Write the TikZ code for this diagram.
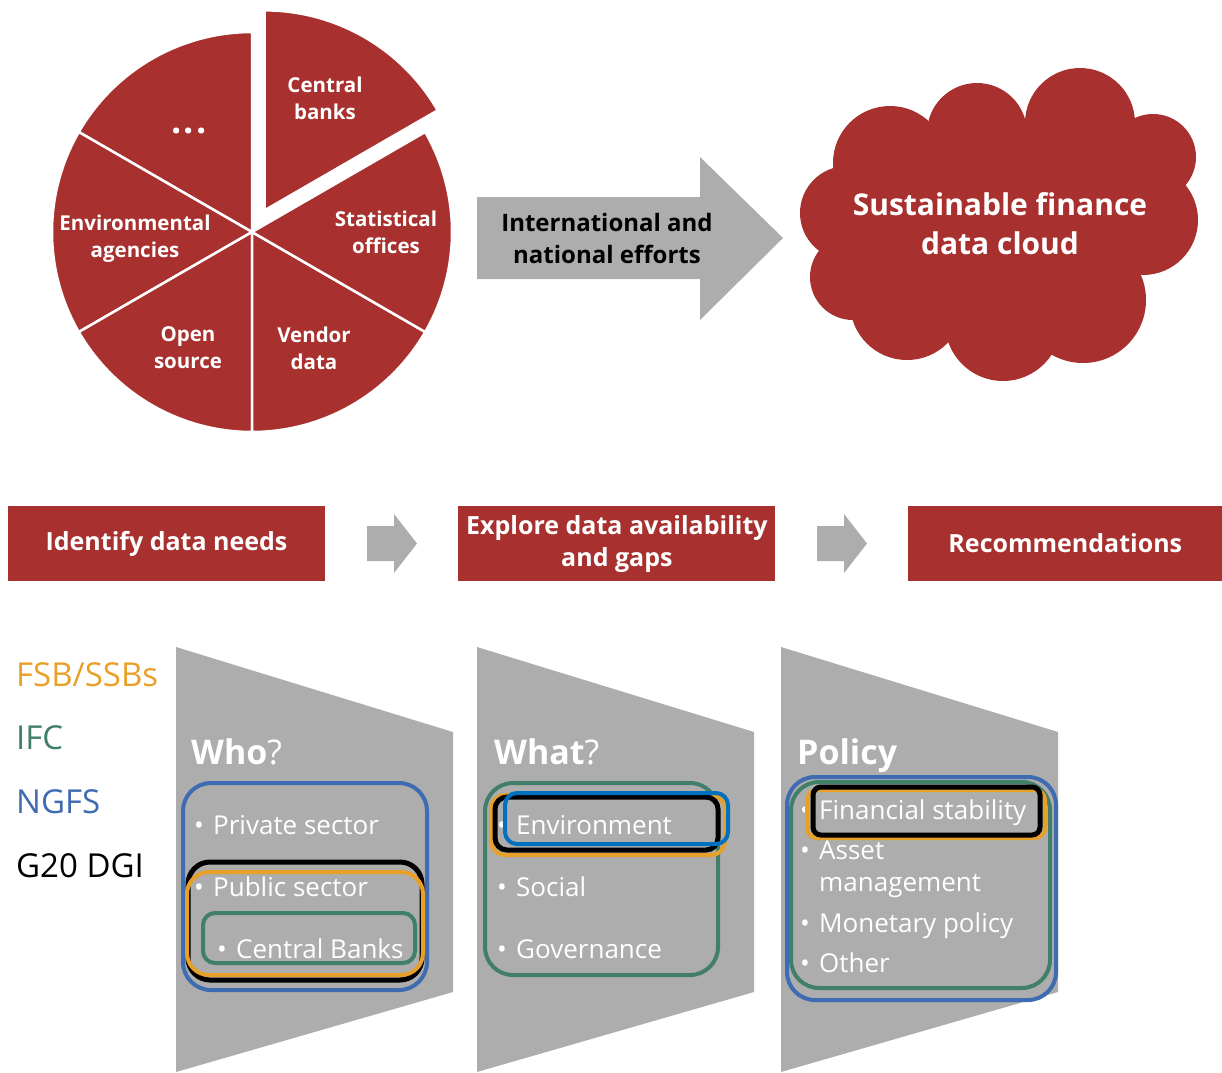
\documentclass[tikz,border=0pt]{standalone}
\usepackage{fontspec}
\setmainfont{Open Sans}
\usetikzlibrary{positioning}
\definecolor{piered}{RGB}{168,49,47}
\definecolor{arrowgrey}{RGB}{172,173,172}
\definecolor{fsborange}{RGB}{233,160,40}
\definecolor{ifcgreen}{RGB}{66,127,107}
\definecolor{ngfsblue}{RGB}{62,107,177}
\definecolor{envblue}{RGB}{0,112,192}
\tikzstyle{slice}=[fill=piered, draw=white, line width=2.5pt, line join=round]
\tikzstyle{pielabel}=[text=white, align=center, inner sep=0pt, font=\fontsize{20.5}{27}\selectfont\bfseries]
\tikzstyle{stepbox}=[fill=piered, text=white, align=center, inner sep=0pt, minimum width=317pt, minimum height=75pt, font=\fontsize{25}{32}\selectfont\bfseries]
\tikzstyle{legend}=[anchor=base west, inner sep=0pt, font=\fontsize{33}{36}\selectfont]
\tikzstyle{heading}=[anchor=base west, inner sep=0pt, text=white, font=\fontsize{34}{40}\selectfont]
\tikzstyle{item}=[anchor=base west, inner sep=0pt, text=white, font=\fontsize{26}{30}\selectfont]
\tikzstyle{frame}=[line width=4pt, rounded corners=28pt]
\newcommand{\bul}[1]{\makebox[19pt][l]{\textbullet}#1}

\begin{document}
\begin{tikzpicture}[x=1pt, y=-1pt]
  \useasboundingbox (0,0) rectangle (1222,1072);
  \coordinate (pc) at (252,232);
  \foreach \a in {90,150,210,270,330}
    \path[slice] (pc) -- ++(-\a:200) arc[start angle=-\a, end angle=-\a-60, radius=200] -- cycle;
  \path[slice] ([shift={(-60:25)}]pc) -- ++(-30:200) arc[start angle=-30, end angle=-90, radius=200] -- cycle;
  \node[pielabel] (cb) at (325,98) {Central\\banks};
  \node[pielabel, font=\fontsize{36}{36}\selectfont\bfseries] (dots) at (189,131) {.\hspace{2pt}.\hspace{2pt}.};
  \node[pielabel] (stat) at (386,232) {Statistical\\offices};
  \node[pielabel] (env) at (135,239) {Environmental\\agencies};
  \node[pielabel] (open) at (188,348) {Open\\source};
  \node[pielabel] (vendor) at (314,348) {Vendor\\data};

  \fill[arrowgrey] (477,197) -- (700,197) -- (700,157) -- (783,238) -- (700,320) -- (700,279) -- (477,279) -- cycle;
  \node[align=center, font=\fontsize{24}{32}\selectfont\bfseries] (effort) at (607,238) {International and\\national efforts};

  \foreach \cx/\cy/\r in {847/213/47, 853/277/43, 890/163/57, 977/133/50, 1080/123/55, 1153/157/43,
                          1143/220/55, 1083/300/63, 1003/323/58, 907/303/57}
    \fill[piered] (\cx,\cy) circle[radius=\r];
  \fill[piered] (1000,228) ellipse[x radius=150, y radius=110];
  \node[text=white, align=center, font=\fontsize{30}{39}\selectfont\bfseries] (cloud) at (1000,224) {Sustainable finance\\data cloud};

  \node[stepbox] (needs) at (166.5,543.5) {Identify data needs};
  \node[stepbox, right=133pt of needs] (explore) {Explore data availability\\and gaps};
  \node[stepbox, right=132pt of explore, minimum width=315pt] (recs) {Recommendations};
  \foreach \x in {367,817}
    \fill[arrowgrey] (\x,526) -- (\x+27,526) -- (\x+27,514) -- (\x+50,543.5) -- (\x+27,573) -- (\x+27,561) -- (\x,561) -- cycle;

  \foreach \x in {176,477,781}
    \fill[arrowgrey] (\x,647) -- (\x+277,732) -- (\x+277,992) -- (\x,1072) -- cycle;

  \node[legend, text=fsborange] (fsb) at (16,686) {FSB/SSBs};
  \node[legend, text=ifcgreen] (ifc) at (16,749) {IFC};
  \node[legend, text=ngfsblue] (ngfs) at (16,813) {NGFS};
  \node[legend] (dgi) at (16,877) {G20 DGI};

  \node[heading] (who) at (191,764) {\textbf{Who}?};
  \node[item] (priv) at (194,834) {\bul{Private sector}};
  \node[item] (pub) at (194,896) {\bul{Public sector}};
  \node[item] (cbanks) at (217,958) {\bul{Central Banks}};
  \draw[frame, ngfsblue] (183,783) rectangle (427,990);
  \draw[frame, black, line width=5pt, rounded corners=22pt] (188,862) rectangle (422,980);
  \draw[frame, fsborange, rounded corners=22pt] (187,872) rectangle (423,975);
  \draw[frame, ifcgreen, rounded corners=12pt] (203,913) rectangle (415,963);

  \node[heading] (what) at (494,764) {\textbf{What}?};
  \node[item] (envt) at (497,834) {\bul{Environment}};
  \node[item] (social) at (497,896) {\bul{Social}};
  \node[item] (gov) at (497,958) {\bul{Governance}};
  \draw[frame, ifcgreen] (485,783) rectangle (718,975);
  \draw[frame, fsborange, rounded corners=14pt] (491,795) rectangle (725,855);
  \draw[frame, black, line width=5pt, rounded corners=12pt] (495,797) rectangle (718,850);
  \draw[frame, envblue, rounded corners=12pt] (505,793) rectangle (728,844);

  \node[heading] (policy) at (797,764) {\textbf{Policy}};
  \node[item] (finstab) at (800,819) {\bul{Financial stability}};
  \node[item] (asset) at (800,859) {\bul{Asset}};
  \node[item] (mgmt) at (819,891) {management};
  \node[item] (monpol) at (800,932) {\bul{Monetary policy}};
  \node[item] (other) at (800,972) {\bul{Other}};
  \draw[frame, ngfsblue] (787,777) rectangle (1056,1000);
  \draw[frame, ifcgreen] (791,782) rectangle (1050,988);
  \draw[frame, fsborange, rounded corners=10pt] (807,790) rectangle (1045,838);
  \draw[frame, black, line width=5pt, rounded corners=8pt] (813,787) rectangle (1040,835);
\end{tikzpicture}
\end{document}
